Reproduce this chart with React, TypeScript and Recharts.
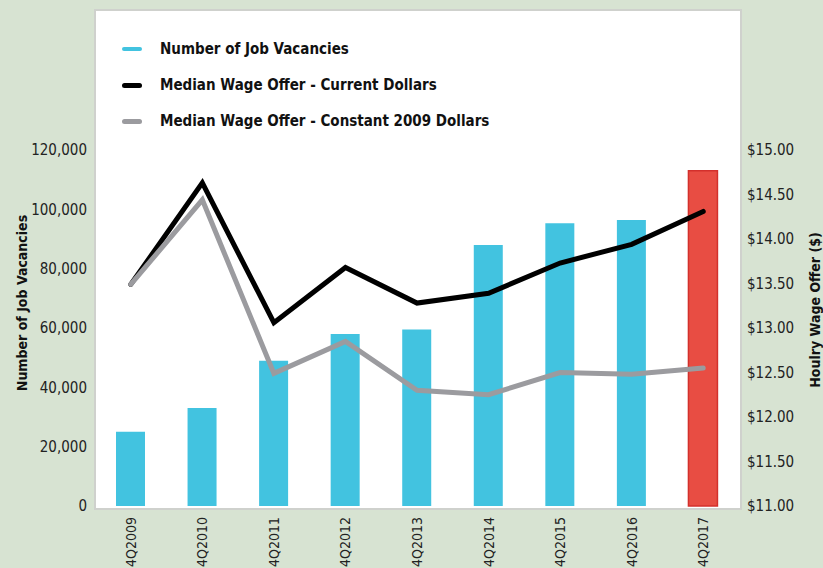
import React from 'react';
import { ComposedChart, Bar, Line, XAxis, YAxis, Legend, Cell } from 'recharts';

const categories = ['4Q2009', '4Q2010', '4Q2011', '4Q2012', '4Q2013', '4Q2014', '4Q2015', '4Q2016', '4Q2017'];
const vacancies = [25000, 33000, 49000, 58000, 59500, 88000, 95300, 96400, 113000];
const wageCurrent = [13.49, 14.63, 13.06, 13.68, 13.28, 13.39, 13.73, 13.94, 14.31];
const wageConstant = [13.49, 14.44, 12.49, 12.85, 12.3, 12.25, 12.5, 12.48, 12.55];
const leftTicks = [0, 20000, 40000, 60000, 80000, 100000, 120000];
const rightTicks = [11, 11.5, 12, 12.5, 13, 13.5, 14, 14.5, 15];
const seriesNames = ['Number of Job Vacancies', 'Median Wage Offer - Current Dollars', 'Median Wage Offer - Constant 2009 Dollars'];

const data = categories.map((c, i) => ({
  cat: c,
  vac: vacancies[i],
  cur: wageCurrent[i],
  con: wageConstant[i],
}));

const FONT = '"DejaVu Sans Condensed", "DejaVu Sans", sans-serif';
const CYAN = '#42c3e0';
const RED = '#e84d43';
const GRAY = '#9b9b9f';
const BG = '#d7e3d2';

const legendColors = [CYAN, '#000000', GRAY];
const legendThick = [4, 5, 5];

const LegendContent = () => (
  <div style={{ fontFamily: FONT, fontWeight: 'bold', fontSize: 15, color: '#111' }}>
    {seriesNames.map((n, i) => (
      <div key={n} style={{ display: 'flex', alignItems: 'center', height: 36 }}>
        <div style={{ width: 20, height: legendThick[i], background: legendColors[i], borderRadius: 3, marginRight: 18 }} />
        <span>{n}</span>
      </div>
    ))}
  </div>
);

const XTick = (props: any) => {
  const { x, y, payload } = props;
  return (
    <text
      x={x}
      y={y}
      transform={`rotate(-90 ${x} ${y})`}
      textAnchor="end"
      fontFamily={FONT}
      fontSize={14}
      fill="#222"
      dx={-3}
      dy={5}
    >
      {payload.value}
    </text>
  );
};

const fmtLeft = (v: number) => v.toLocaleString('en-US');
const fmtRight = (v: number) => '$' + v.toFixed(2);

export default function App() {
  return (
    <div style={{ position: 'absolute', left: 0, top: 0, width: 823, height: 568, background: BG, overflow: 'hidden' }}>
      <div
        style={{
          position: 'absolute',
          left: 94,
          top: 9,
          width: 644,
          height: 497,
          background: '#ffffff',
          border: '2px solid #cfd1cd',
        }}
      />
      <div style={{ position: 'absolute', left: 0, top: 0 }}>
        <ComposedChart
          width={823}
          height={568}
          data={data}
          margin={{ top: 150, right: 0, bottom: 0, left: 0 }}
          barCategoryGap={0}
        >
          <XAxis
            dataKey="cat"
            height={62}
            axisLine={false}
            tickLine={false}
            interval={0}
            tick={<XTick />}
          />
          <YAxis
            yAxisId="left"
            orientation="left"
            width={95}
            domain={[0, 120000]}
            ticks={leftTicks}
            tickFormatter={fmtLeft}
            axisLine={false}
            tickLine={false}
            tickSize={6}
            tickMargin={2}
            tick={{ fontFamily: FONT, fontSize: 15, fill: '#222' }}
            label={{
              content: () => (
                <text
                  x={27}
                  y={303}
                  transform="rotate(-90 27 303)"
                  textAnchor="middle"
                  fontFamily={FONT}
                  fontWeight="bold"
                  fontSize={14}
                  fill="#111"
                >
                  Number of Job Vacancies
                </text>
              ),
            }}
          />
          <YAxis
            yAxisId="right"
            orientation="right"
            width={84}
            domain={[11, 15]}
            ticks={rightTicks}
            tickFormatter={fmtRight}
            axisLine={false}
            tickLine={false}
            tickSize={6}
            tickMargin={2}
            tick={{ fontFamily: FONT, fontSize: 15, fill: '#222', textAnchor: 'start' }}
            label={{
              content: () => (
                <text
                  x={820}
                  y={310}
                  transform="rotate(-90 820 310)"
                  textAnchor="middle"
                  fontFamily={FONT}
                  fontWeight="bold"
                  fontSize={14}
                  fill="#111"
                >
                  Houlry Wage Offer ($)
                </text>
              ),
            }}
          />
          <Legend
            layout="vertical"
            align="center"
            verticalAlign="middle"
            content={<LegendContent />}
            wrapperStyle={{ left: 122, top: 31, width: 'auto', height: 'auto' }}
          />
          <Bar yAxisId="left" dataKey="vac" name={seriesNames[0]} barSize={29} fill={CYAN} isAnimationActive={false}>
            {data.map((d, i) => (
              <Cell
                key={d.cat}
                fill={i === data.length - 1 ? RED : CYAN}
                stroke={i === data.length - 1 ? '#d3302c' : 'none'}
                strokeWidth={i === data.length - 1 ? 1.5 : 0}
              />
            ))}
          </Bar>
          <Line
            yAxisId="right"
            dataKey="cur"
            name={seriesNames[1]}
            stroke="#000000"
            strokeWidth={5}
            dot={false}
            activeDot={false}
            strokeLinejoin="miter"
            strokeLinecap="round"
            isAnimationActive={false}
          />
          <Line
            yAxisId="right"
            dataKey="con"
            name={seriesNames[2]}
            stroke={GRAY}
            strokeWidth={5}
            dot={false}
            activeDot={false}
            strokeLinejoin="miter"
            strokeLinecap="round"
            isAnimationActive={false}
          />
        </ComposedChart>
      </div>
    </div>
  );
}
